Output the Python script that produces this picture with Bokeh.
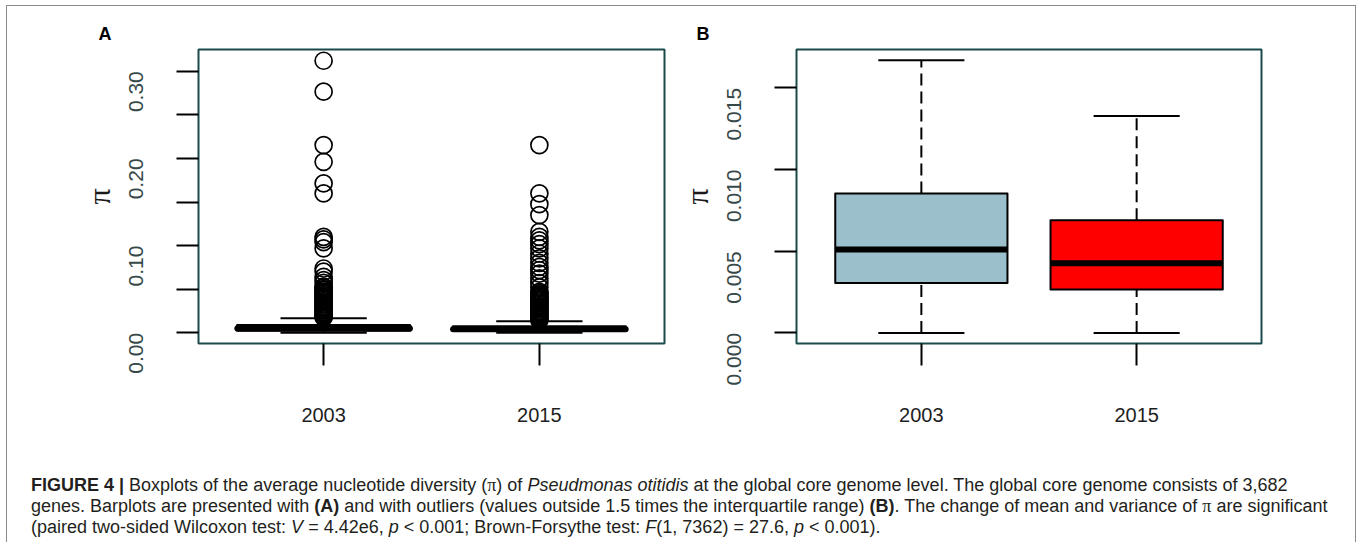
import math
from bokeh.plotting import figure
from bokeh.models import FixedTicker, Div, Range1d, Title, PrintfTickFormatter
from bokeh.layouts import column, row
from bokeh.embed import file_html
from bokeh.resources import INLINE

# ---------------- data ----------------
years = ["2003", "2015"]
xpos = [1, 2]
box_colors = ["#9cbfcc", "#ff0000"]
q1 = [0.00306, 0.00266]
median = [0.0051, 0.00427]
q3 = [0.00853, 0.0069]
whisker_low = [0.0, 0.0]
whisker_high = [0.01669, 0.01328]

outliers_2003 = [0.312, 0.2765, 0.2153, 0.1961, 0.1713, 0.1599, 0.1101, 0.1072, 0.104,
                 0.0968, 0.0738, 0.0701, 0.0642, 0.0604, 0.0572,
                 0.0531, 0.0518, 0.0502, 0.0489, 0.0473, 0.0461, 0.0447, 0.0432, 0.0418,
                 0.0405, 0.0391, 0.0377, 0.0364, 0.0350, 0.0336, 0.0323, 0.0309, 0.0296,
                 0.0282, 0.0268, 0.0255, 0.0241, 0.0228, 0.0214, 0.0201, 0.0188, 0.0176]
outliers_2015 = [0.2153, 0.1600, 0.1476, 0.1350, 0.1158, 0.1100, 0.1060, 0.1017, 0.0968,
                 0.0910, 0.0853, 0.0803, 0.0757, 0.0719, 0.0680, 0.0624, 0.0571, 0.0521,
                 0.0469, 0.0456, 0.0442, 0.0429, 0.0415, 0.0402, 0.0388, 0.0375, 0.0361,
                 0.0348, 0.0334, 0.0321, 0.0307, 0.0294, 0.0280, 0.0267, 0.0253, 0.0240,
                 0.0226, 0.0213, 0.0199, 0.0186, 0.0172, 0.0159, 0.0146]

ticks_A = [0.0, 0.10, 0.20, 0.30]
minor_A = [0.05, 0.15, 0.25]
ticks_B = [0.0, 0.005, 0.010, 0.015]

FRAME = "#1b4a4b"
TXT = "#1e1e1e"


def make_panel(width, left, right, y_range, yticks, yminor, yfmt, letter, show_outliers):
    p = figure(width=width, height=434, x_range=Range1d(0.42, 2.58), y_range=y_range,
               output_backend="svg", toolbar_location=None,
               min_border_left=left, min_border_right=right,
               min_border_top=43, min_border_bottom=97)
    p.title = Title(text=letter, align="left", offset=-100,
                    text_font="Liberation Sans", text_font_style="bold",
                    text_font_size="18px", text_color="black", standoff=11)
    p.grid.visible = False
    p.outline_line_color = FRAME
    p.outline_line_width = 2
    p.outline_line_alpha = 1.0
    p.background_fill_color = "white"
    p.border_fill_alpha = 0.0

    ya = p.yaxis[0]
    ya.ticker = FixedTicker(ticks=yticks, minor_ticks=yminor)
    ya.formatter = PrintfTickFormatter(format=yfmt)
    ya.axis_line_color = None
    ya.major_tick_in = 0
    ya.major_tick_out = 22
    ya.major_tick_line_width = 2
    ya.major_tick_line_color = "black"
    ya.minor_tick_in = 0
    ya.minor_tick_out = 22
    ya.minor_tick_line_width = 2
    ya.minor_tick_line_color = "black"
    ya.major_label_orientation = math.pi / 2
    ya.major_label_text_font = "Liberation Sans"
    ya.major_label_text_font_size = "21px"
    ya.major_label_text_color = "#364848"
    ya.major_label_standoff = 40
    ya.axis_label = "π"
    ya.axis_label_text_font = "Liberation Serif"
    ya.axis_label_text_font_size = "32px"
    ya.axis_label_text_font_style = "normal"
    ya.axis_label_text_color = "#1a1a1a"
    ya.axis_label_standoff = 3

    xa = p.xaxis[0]
    xa.ticker = FixedTicker(ticks=xpos)
    xa.major_label_overrides = {xpos[i]: years[i] for i in range(len(years))}
    xa.axis_line_color = None
    xa.major_tick_in = 0
    xa.major_tick_out = 22
    xa.major_tick_line_width = 2
    xa.major_tick_line_color = "black"
    xa.minor_tick_line_color = None
    xa.major_label_text_font = "Liberation Sans"
    xa.major_label_text_font_size = "20px"
    xa.major_label_text_color = TXT
    xa.major_label_standoff = 42

    lw = 3 if show_outliers else 2
    # whiskers (dashed)
    p.segment(x0=xpos, x1=xpos, y0=q3, y1=whisker_high, line_color="black",
              line_width=2, line_dash="12 6")
    p.segment(x0=xpos, x1=xpos, y0=whisker_low, y1=q1, line_color="black",
              line_width=2, line_dash="12 6")
    # caps
    p.segment(x0=[x - 0.2 for x in xpos], x1=[x + 0.2 for x in xpos], y0=whisker_high,
              y1=whisker_high, line_color="black", line_width=2)
    p.segment(x0=[x - 0.2 for x in xpos], x1=[x + 0.2 for x in xpos], y0=whisker_low,
              y1=whisker_low, line_color="black", line_width=2)
    # boxes
    p.vbar(x=xpos, width=0.8, bottom=q1, top=q3, fill_color=box_colors,
           line_color="black", line_width=lw, line_join="round")
    # medians
    p.segment(x0=[x - 0.4 for x in xpos], x1=[x + 0.4 for x in xpos], y0=median,
              y1=median, line_color="black", line_width=6,
              line_cap="round" if show_outliers else "butt")
    if show_outliers:
        p.scatter(x=[xpos[0]] * len(outliers_2003), y=outliers_2003, marker="circle",
                  size=17, fill_color=None, line_color="black", line_width=1.7)
        p.scatter(x=[xpos[1]] * len(outliers_2015), y=outliers_2015, marker="circle",
                  size=17, fill_color=None, line_color="black", line_width=1.7)
    return p


pA = make_panel(664, 191, 7, Range1d(-0.0122, 0.3249), ticks_A, minor_A, "%.2f", "A", True)
pB = make_panel(684, 125, 94, Range1d(-0.00065, 0.01735), ticks_B, [], "%.3f", "B", False)

caption_html = (
    '<div style="font-family:\'Liberation Sans\',Arial,sans-serif;font-size:18px;'
    'line-height:21px;color:#231f20;padding-left:19px;padding-top:30px;white-space:nowrap;">'
    '<b>FIGURE 4 |</b> Boxplots of the average nucleotide diversity (<span style="font-family:\'Liberation Serif\',serif;">π</span>) of '
    '<i>Pseudmonas otitidis</i> at the global core genome level. The global core genome consists of 3,682<br>'
    'genes. Barplots are presented with <b>(A)</b> and with outliers (values outside 1.5 times the '
    'interquartile range) <b>(B)</b>. The change of mean and variance of '
    '<span style="font-family:\'Liberation Serif\',serif;">π</span> are significant<br>'
    '(paired two-sided Wilcoxon test: <i>V</i> = 4.42e6, <i>p</i> &lt; 0.001; Brown-Forsythe test: '
    '<i>F</i>(1, 7362) = 27.6, <i>p</i> &lt; 0.001).'
    '</div>'
)
caption = Div(text=caption_html, width=1346, height=96)

layout = column(row(pA, pB), caption, margin=(5, 0, 0, 6), width=1350,
                styles={"border-left": "1px solid #8c8c8c", "border-top": "1px solid #8c8c8c",
                        "border-right": "1px solid #8c8c8c", "box-sizing": "border-box"})

open("out.html", "w").write(file_html(layout, INLINE))
